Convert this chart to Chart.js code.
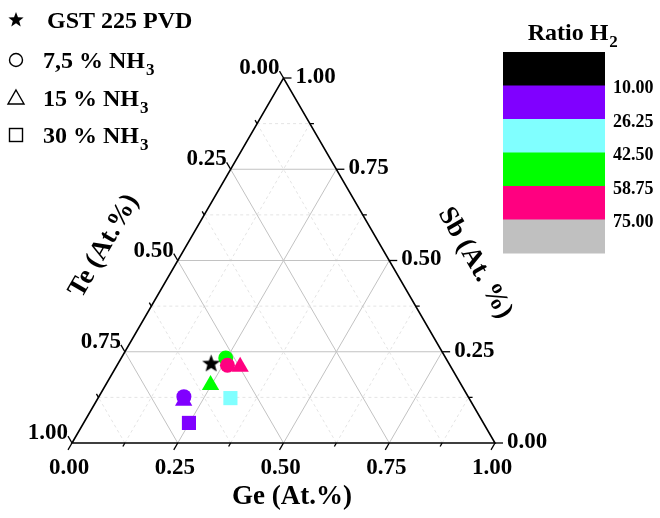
<!DOCTYPE html>
<html>
<head>
<meta charset="utf-8">
<script src="https://cdn.jsdelivr.net/npm/chart.js@4.4.1/dist/chart.umd.min.js"></script>
<style>
  html, body { margin: 0; padding: 0; background: #fff; }
  #wrap { width: 660px; height: 518px; }
</style>
</head>
<body>
<div id="wrap"><canvas id="ternChart" width="660" height="518"></canvas></div>
<script>
// compositions (atomic fractions), Te = 1 - Ge - Sb
// H2 ratio only known from the marker colour, so values sit inside the colour band
const pvdGe = [0.219];
const pvdSb = [0.220];
const pvdH2 = [0];

const nh3_75Ge = [0.201, 0.247, 0.261];
const nh3_75Sb = [0.127, 0.233, 0.213];
const nh3_75H2 = [18, 50, 67];

const nh3_15Ge = [0.206, 0.248, 0.293];
const nh3_15Sb = [0.116, 0.159, 0.209];
const nh3_15H2 = [18, 50, 67];

const nh3_30Ge = [0.249, 0.313];
const nh3_30Sb = [0.055, 0.123];
const nh3_30H2 = [18, 34];

const axisTicks = [0, 0.25, 0.5, 0.75, 1];
const h2Ticks = [10, 26.25, 42.5, 58.75, 75];
const h2Colors = ['#000000', '#8000ff', '#80ffff', '#00ff00', '#ff0080', '#c0c0c0'];
const legendNames = [['GST 225 PVD', ''], ['7,5 % NH', '3'], ['15 % NH', '3'], ['30 % NH', '3']];

const H = Math.sqrt(3) / 2;
const SERIF = '"Liberation Serif", "Times New Roman", serif';

function h2Color(v) {
  let i = 0;
  while (i < h2Ticks.length && v >= h2Ticks[i]) i++;
  return h2Colors[i];
}

// ternary -> cartesian (Te at bottom-left, Ge at bottom-right, Sb at top)
function toXY(ge, sb) {
  return ge.map((g, i) => ({ x: g + sb[i] / 2, y: sb[i] * H }));
}

function starImage(size, color) {
  const c = document.createElement('canvas');
  c.width = size; c.height = size;
  const g = c.getContext('2d');
  const cx = size / 2, cy = size / 2 + size * 0.06, R = size / 2, r = R * 0.42;
  g.beginPath();
  for (let k = 0; k < 10; k++) {
    const a = -Math.PI / 2 + k * Math.PI / 5;
    const rr = k % 2 ? r : R;
    g.lineTo(cx + rr * Math.cos(a), cy + rr * Math.sin(a));
  }
  g.closePath();
  g.fillStyle = color;
  g.fill();
  return c;
}

function textSub(ctx, main, sub, x, y, size) {
  ctx.font = 'bold ' + size + 'px ' + SERIF;
  ctx.textAlign = 'left';
  ctx.textBaseline = 'alphabetic';
  ctx.fillText(main, x, y);
  if (sub) {
    const w = ctx.measureText(main).width;
    ctx.font = 'bold ' + Math.round(size * 0.72) + 'px ' + SERIF;
    ctx.fillText(sub, x + w + 1, y + size * 0.3);
  }
}

const ternaryFrame = {
  id: 'ternaryFrame',
  beforeDatasetsDraw(chart) {
    const { ctx, scales: { x, y } } = chart;
    const P = (ge, sb) => ({ px: x.getPixelForValue(ge + sb / 2), py: y.getPixelForValue(sb * H) });
    const line = (a, b) => { ctx.beginPath(); ctx.moveTo(a.px, a.py); ctx.lineTo(b.px, b.py); ctx.stroke(); };
    ctx.save();
    // grid: major every 0.25, minor every 0.125
    for (let k = 1; k < 8; k++) {
      const v = k / 8, major = k % 2 === 0;
      ctx.strokeStyle = major ? '#c2c2c2' : '#e4e4e4';
      ctx.lineWidth = 1;
      ctx.setLineDash(major ? [] : [3, 3]);
      line(P(0, v), P(1 - v, v));
      line(P(v, 0), P(v, 1 - v));
      line(P(1 - v, 0), P(0, 1 - v));
    }
    ctx.setLineDash([]);
    // triangle edges
    ctx.strokeStyle = '#000';
    ctx.lineWidth = 1.6;
    ctx.beginPath();
    const a = P(0, 0), b = P(1, 0), c = P(0, 1);
    ctx.moveTo(a.px, a.py); ctx.lineTo(b.px, b.py); ctx.lineTo(c.px, c.py); ctx.closePath();
    ctx.stroke();
    // ticks
    ctx.lineWidth = 1.3;
    for (let k = 0; k <= 8; k++) {
      const v = k / 8, len = k % 2 === 0 ? 8 : 4;
      let p = P(v, 0);            // Ge axis, ticks down-left
      line(p, { px: p.px - 0.5 * len, py: p.py + H * len });
      p = P(0, 1 - v);            // Te axis, ticks up-left
      line(p, { px: p.px - 0.5 * len, py: p.py - H * len });
      p = P(1 - v, v);            // Sb axis, ticks to the right
      line(p, { px: p.px + len, py: p.py });
    }
    ctx.restore();
  },
  afterDraw(chart) {
    const { ctx, scales: { x, y } } = chart;
    const P = (ge, sb) => ({ px: x.getPixelForValue(ge + sb / 2), py: y.getPixelForValue(sb * H) });
    ctx.save();
    ctx.fillStyle = '#000';
    ctx.font = 'bold 23px ' + SERIF;
    axisTicks.forEach(v => {
      const lab = v.toFixed(2);
      let p = P(v, 0);
      ctx.textAlign = 'center'; ctx.textBaseline = 'middle';
      ctx.fillText(lab, p.px - 3, p.py + 25);
      p = P(0, 1 - v);
      ctx.textAlign = 'right'; ctx.textBaseline = 'alphabetic';
      ctx.fillText(lab, p.px - 4, p.py - 4);
      p = P(1 - v, v);
      ctx.textAlign = 'left'; ctx.textBaseline = 'middle';
      ctx.fillText(lab, p.px + 12, p.py - 1);
    });
    // axis titles
    ctx.font = 'bold 27px ' + SERIF;
    ctx.textAlign = 'center'; ctx.textBaseline = 'middle';
    ctx.fillText('Ge (At.%)', 292, 497);
    ctx.save();
    ctx.translate(104, 246); ctx.rotate(-Math.PI / 3);
    ctx.fillText('Te (At.%)', 0, 0);
    ctx.restore();
    ctx.save();
    ctx.translate(475, 263); ctx.rotate(Math.PI / 3);
    ctx.fillText('Sb (At. %)', 0, 0);
    ctx.restore();

    // legend (hollow symbols)
    const rows = [20, 60, 98, 135];
    ctx.strokeStyle = '#000'; ctx.lineWidth = 1.4;
    ctx.drawImage(starImage(16, '#000'), 8, rows[0] - 9);
    ctx.beginPath(); ctx.arc(16, rows[1], 6.5, 0, Math.PI * 2); ctx.stroke();
    ctx.beginPath();
    ctx.moveTo(16, rows[2] - 8); ctx.lineTo(24, rows[2] + 6); ctx.lineTo(8, rows[2] + 6); ctx.closePath(); ctx.stroke();
    ctx.strokeRect(9.5, rows[3] - 6.5, 13, 13);
    legendNames.forEach((n, i) => {
      textSub(ctx, n[0], n[1], i === 0 ? 47 : 43, rows[i] + 8, 24);
    });

    // H2 ratio colour bar
    const bx = 503, bw = 102, by = 52, bh = 201, band = bh / h2Colors.length;
    h2Colors.forEach((col, i) => {
      ctx.fillStyle = col;
      ctx.fillRect(bx, by + i * band, bw, band + 0.5);
    });
    ctx.fillStyle = '#000';
    ctx.font = 'bold 18px ' + SERIF;
    ctx.textAlign = 'left'; ctx.textBaseline = 'middle';
    h2Ticks.forEach((t, i) => ctx.fillText(t.toFixed(2), 613, by + (i + 1) * band + 3));
    ctx.font = 'bold 24px ' + SERIF;
    const w = ctx.measureText('Ratio H').width;
    textSub(ctx, 'Ratio H', '2', 574 - (w + 12) / 2, 40, 24);
    ctx.restore();
  }
};

function makeSet(label, ge, sb, h2, style, radius, order) {
  const colors = h2.map(h2Color);
  return {
    label: label,
    data: toXY(ge, sb),
    pointStyle: style,
    pointRadius: radius,
    pointHoverRadius: radius,
    pointBackgroundColor: colors,
    pointBorderColor: colors,
    pointBorderWidth: 0,
    showLine: false,
    order: order
  };
}

const ctx = document.getElementById('ternChart').getContext('2d');
const ternChart = new Chart(ctx, {
  type: 'scatter',
  data: {
    datasets: [
      makeSet('GST 225 PVD', pvdGe, pvdSb, pvdH2, starImage(19, '#000'), 9, 0),
      makeSet('7,5 % NH3', nh3_75Ge, nh3_75Sb, nh3_75H2, 'circle', 7.5, 1),
      makeSet('15 % NH3', nh3_15Ge, nh3_15Sb, nh3_15H2, 'triangle', 10, 2),
      makeSet('30 % NH3', nh3_30Ge, nh3_30Sb, nh3_30H2, 'rect', 10, 3)
    ]
  },
  options: {
    responsive: false,
    animation: false,
    layout: { padding: { left: 72, right: 165, top: 78, bottom: 75 } },
    scales: {
      x: { type: 'linear', min: 0, max: 1, display: false },
      y: { type: 'linear', min: 0, max: H, display: false }
    },
    plugins: {
      legend: { display: false },
      tooltip: { enabled: false }
    }
  },
  plugins: [ternaryFrame]
});
</script>
</body>
</html>
